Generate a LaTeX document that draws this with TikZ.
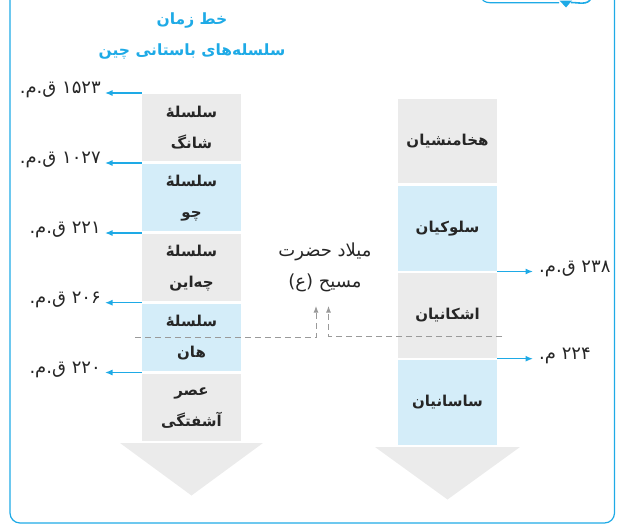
\documentclass[tikz,border=0pt]{standalone}
\usepackage{fontspec}
\TeXXeTstate=1
\newfontfamily\fa[Script=Arabic]{DejaVu Sans}
\usetikzlibrary{arrows.meta}
\definecolor{lineblue}{HTML}{1EAAE6}
\definecolor{boxgray}{HTML}{EBEBEB}
\definecolor{boxblue}{HTML}{D4EDF9}
\definecolor{dashgray}{HTML}{9A9A9A}
\newcommand\RL[1]{\beginR #1\endR}
\tikzset{
  period/.style={draw=none, minimum width=99pt, inner sep=0pt, align=center,
    font=\fa\bfseries\fontsize{15}{31}\selectfont, text=black!85},
  leftbox/.style={period, minimum height=67pt},
  rightbox/.style={period, minimum height=84.5pt},
  grayfill/.style={fill=boxgray},
  bluefill/.style={fill=boxblue},
  datelabel/.style={font=\fa\fontsize{18}{20}\selectfont, text=black!85, inner sep=0pt},
  datearrow/.style={draw=lineblue, line width=1.3pt, -{Latex[length=7.5pt,width=6pt]}},
  gdash/.style={draw=dashgray, line width=1pt, dash pattern=on 6pt off 4pt,
    -{Latex[length=6.5pt,width=5pt]}},
  titletext/.style={font=\fa\bfseries\fontsize{15.5}{18}\selectfont, text=lineblue, inner sep=0pt},
  bigarrow/.style={fill=boxgray, draw=none}
}
\begin{document}
\begin{tikzpicture}[x=1pt,y=-1pt]
\useasboundingbox (0,0) rectangle (620,525);
\clip (0,0) rectangle (620,525);
% frame
\draw[lineblue, line width=1.2pt, rounded corners=10pt] (10,-20) rectangle (614.5,523);
% top-right decoration
\draw[lineblue, line width=1.2pt] (481,-4) to[out=-90,in=180] (490,2.7) -- (559,2.7);
\fill[lineblue] (559.5,0.5) -- (572,0.5) -- (566,7.5) -- cycle;
\draw[lineblue, line width=1.6pt] (571,2.5) to[out=0,in=-110] (591,-2);
% title
\node[titletext] (t1) at (192,21) {\RL{خط زمان}};
\node[titletext] (t2) at (192,52) {\RL{سلسله‌های باستانی چین}};
% left column
\node[leftbox,grayfill,anchor=north] (shang) at (191.5,94) {\RL{سلسلهٔ}\\\RL{شانگ}};
\node[leftbox,bluefill,anchor=north] (chu) at (191.5,164) {\RL{سلسلهٔ}\\\RL{چو}};
\node[leftbox,grayfill,anchor=north] (chin) at (191.5,234) {\RL{سلسلهٔ}\\\RL{چه‌این}};
\node[leftbox,bluefill,anchor=north] (han) at (191.5,304) {\RL{سلسلهٔ}\\\RL{هان}};
\node[leftbox,grayfill,anchor=north] (chaos) at (191.5,374) {\RL{عصر}\\\RL{آشفتگی}};
\path[bigarrow] (120,443) -- (263,443) -- (191.5,495.5) -- cycle;
% right column
\node[rightbox,grayfill,anchor=north] (achaemenid) at (447.5,98.3) {\RL{هخامنشیان}};
\node[rightbox,bluefill,anchor=north] (seleucid) at (447.5,185.8) {\RL{سلوکیان}};
\node[rightbox,grayfill,anchor=north] (parthian) at (447.5,273) {\RL{اشکانیان}};
\node[rightbox,bluefill,anchor=north] (sasanian) at (447.5,360) {\RL{ساسانیان}};
\path[bigarrow] (375,447) -- (520,447) -- (447.5,499.5) -- cycle;
% left date arrows
\coordinate (a1) at (105,93);
\coordinate (a2) at (105,163);
\coordinate (a3) at (105,233);
\coordinate (a4) at (105,302.7);
\coordinate (a5) at (105,372.5);
\draw[datearrow] ([yshift=1pt]shang.north west) -- (a1);
\draw[datearrow] ([yshift=1pt]chu.north west) -- (a2);
\draw[datearrow] ([yshift=1pt]chin.north west) -- (a3);
\draw[datearrow] ([yshift=1.3pt]han.north west) -- (a4);
\draw[datearrow] ([yshift=1.5pt]chaos.north west) -- (a5);
\node[datelabel, anchor=east] (d1) at (101,90) {\RL{۱۵۲۳ ق.م.}};
\node[datelabel, anchor=east] (d2) at (101,160) {\RL{۱۰۲۷ ق.م.}};
\node[datelabel, anchor=east] (d3) at (101,230) {\RL{۲۲۱ ق.م.}};
\node[datelabel, anchor=east] (d4) at (101,299.5) {\RL{۲۰۶ ق.م.}};
\node[datelabel, anchor=east] (d5) at (101,369.5) {\RL{۲۲۰ ق.م.}};
% right date arrows
\coordinate (b1) at (533,271.5);
\coordinate (b2) at (533,358.7);
\draw[datearrow] ([yshift=1.5pt]parthian.north east) -- (b1);
\draw[datearrow] ([yshift=1.3pt]sasanian.north east) -- (b2);
\node[datelabel, anchor=west] (e1) at (539,268.5) {\RL{۲۳۸ ق.م.}};
\node[datelabel, anchor=west] (e2) at (539,355.5) {\RL{۲۲۴ م.}};
% birth of Christ
\node[datelabel, align=center, font=\fa\fontsize{18}{31}\selectfont] (milad) at (325,267.5) {\RL{میلاد حضرت}\\\RL{مسیح (ع)}};
\coordinate (s1) at (135,337.7);
\coordinate (s2) at (502,336);
\coordinate (m1) at (316,306);
\coordinate (m2) at (328.5,306);
\draw[gdash] (s1) -| (m1);
\draw[gdash] (s2) -| (m2);
\end{tikzpicture}
\end{document}
